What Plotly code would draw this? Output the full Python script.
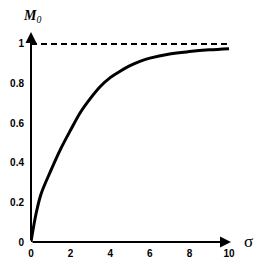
import plotly.graph_objects as go

sigma = [0, 0.1, 0.25, 0.5, 1.0, 1.5, 2.0, 2.5, 3.0, 3.5, 4.0, 4.5, 5.0, 5.5, 6.0, 7.0, 8.0, 9.0, 10.0]
m0 = [0, 0.06, 0.14, 0.24, 0.36, 0.47, 0.565, 0.655, 0.725, 0.785, 0.83, 0.862, 0.89, 0.912, 0.928, 0.949, 0.961, 0.97, 0.976]
x_ticks = [0, 2, 4, 6, 8, 10]
y_ticks = [0, 0.2, 0.4, 0.6, 0.8, 1]
y_tick_text = ["0", "0.2", "0.4", "0.6", "0.8", "1"]
limit = 1.0

fig = go.Figure()
fig.add_trace(go.Scatter(x=[0, 10.1], y=[limit, limit], mode="lines",
                         line=dict(color="black", width=2, dash="6px,4px"), hoverinfo="skip"))
fig.add_trace(go.Scatter(x=sigma, y=m0, mode="lines",
                         line=dict(color="black", width=3, shape="spline", smoothing=1.0),
                         hoverinfo="skip"))

tickfont = dict(family="Liberation Sans", size=10, color="black", weight="bold")
fig.update_layout(
    width=258, height=258, showlegend=False,
    margin=dict(l=23, r=35, t=24, b=24, autoexpand=False),
    plot_bgcolor="white", paper_bgcolor="white",
    xaxis=dict(range=[0, 10.1], tickvals=x_ticks, showgrid=False, zeroline=False, showline=False,
               ticks="", tickfont=tickfont, ticklabelstandoff=4, automargin=False),
    yaxis=dict(range=[0, 1.06], tickvals=y_ticks, ticktext=y_tick_text, showgrid=False, zeroline=False,
               showline=False, ticks="", tickfont=tickfont, ticklabelstandoff=6, automargin=False),
)
# axes with arrows
fig.add_annotation(x=10.1, y=0, ax=0, ay=0, xref="x", yref="y", axref="x", ayref="y", text="",
                   showarrow=True, arrowhead=2, arrowsize=1.1, arrowwidth=2, arrowcolor="black")
fig.add_annotation(x=0, y=1.06, ax=0, ay=0, xref="x", yref="y", axref="x", ayref="y", text="",
                   showarrow=True, arrowhead=2, arrowsize=1.1, arrowwidth=2, arrowcolor="black")
fig.add_annotation(x=0, y=1.06, xref="x", yref="y", yshift=16, xshift=1,
                   text="<b><i>M</i></b><i><sub>0</sub></i>", showarrow=False,
                   font=dict(family="Liberation Serif", size=14, color="black"))
fig.add_annotation(x=10.1, y=0, xref="x", yref="y", xshift=17, yshift=1,
                   text="σ", showarrow=False,
                   font=dict(family="Liberation Serif", size=17, color="black"))
fig.write_html("out.html")
